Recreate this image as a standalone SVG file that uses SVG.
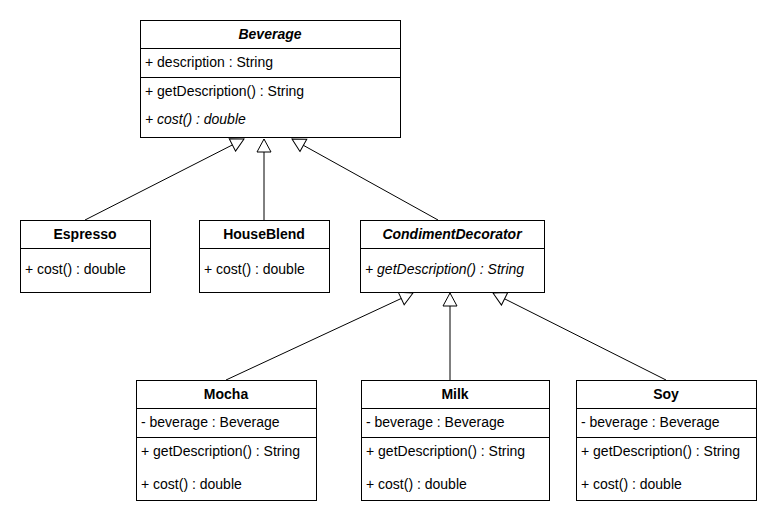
<svg xmlns="http://www.w3.org/2000/svg" width="781" height="521" viewBox="0 0 781 521">
<defs>
<style>
.box{fill:#fff;stroke:#000;stroke-width:1}
.div{stroke:#000;stroke-width:1;fill:none}
.t{font-family:"Liberation Sans",Arial,Helvetica,sans-serif;font-size:14px;fill:#000}
.h{font-weight:bold;text-anchor:middle}
.i{font-style:italic}
.conn line{stroke:#000;stroke-width:1;marker-end:url(#inh)}
</style>
<marker id="inh" viewBox="-1 -1 16 16" markerWidth="16" markerHeight="16" refX="13" refY="7" orient="auto" markerUnits="userSpaceOnUse">
<path d="M0,0 L13,7 L0,14 Z" fill="#fff" stroke="#000" stroke-width="1"/>
</marker>
</defs>
<rect x="0" y="0" width="781" height="521" fill="#fff"/>
<g id="connectors" class="conn">
<line x1="85" y1="220" x2="244" y2="139"/>
<line x1="264" y1="220" x2="264" y2="139"/>
<line x1="438" y1="220" x2="292" y2="139"/>
<line x1="226" y1="380" x2="413" y2="293"/>
<line x1="450" y1="380" x2="450" y2="293"/>
<line x1="666" y1="380" x2="493" y2="293"/>
</g>
<g id="Beverage">
<rect class="box" x="140.5" y="20.5" width="260" height="117"/>
<line class="div" x1="140.5" y1="48.5" x2="400.5" y2="48.5"/>
<line class="div" x1="140.5" y1="77.5" x2="400.5" y2="77.5"/>
<text class="t h i" x="270" y="39">Beverage</text>
<text class="t" x="145" y="67">+ description : String</text>
<text class="t" x="145" y="96">+ getDescription() : String</text>
<text class="t i" x="145" y="124">+ cost() : double</text>
</g>
<g id="Espresso">
<rect class="box" x="20.5" y="220.5" width="130" height="72"/>
<line class="div" x1="20.5" y1="248.5" x2="150.5" y2="248.5"/>
<text class="t h" x="85" y="239">Espresso</text>
<text class="t" x="25" y="274">+ cost() : double</text>
</g>
<g id="HouseBlend">
<rect class="box" x="199.5" y="220.5" width="130" height="72"/>
<line class="div" x1="199.5" y1="248.5" x2="329.5" y2="248.5"/>
<text class="t h" x="264" y="239">HouseBlend</text>
<text class="t" x="204" y="274">+ cost() : double</text>
</g>
<g id="CondimentDecorator">
<rect class="box" x="360.5" y="220.5" width="184" height="72"/>
<line class="div" x1="360.5" y1="248.5" x2="544.5" y2="248.5"/>
<text class="t h i" x="452" y="239">CondimentDecorator</text>
<text class="t i" x="365" y="274">+ getDescription() : String</text>
</g>
<g id="Mocha">
<rect class="box" x="136.5" y="380.5" width="180" height="120"/>
<line class="div" x1="136.5" y1="408.5" x2="316.5" y2="408.5"/>
<line class="div" x1="136.5" y1="437.5" x2="316.5" y2="437.5"/>
<text class="t h" x="226" y="399">Mocha</text>
<text class="t" x="141" y="427">- beverage : Beverage</text>
<text class="t" x="141" y="456">+ getDescription() : String</text>
<text class="t" x="141" y="489">+ cost() : double</text>
</g>
<g id="Milk">
<rect class="box" x="361.5" y="380.5" width="188" height="120"/>
<line class="div" x1="361.5" y1="408.5" x2="549.5" y2="408.5"/>
<line class="div" x1="361.5" y1="437.5" x2="549.5" y2="437.5"/>
<text class="t h" x="455" y="399">Milk</text>
<text class="t" x="366" y="427">- beverage : Beverage</text>
<text class="t" x="366" y="456">+ getDescription() : String</text>
<text class="t" x="366" y="489">+ cost() : double</text>
</g>
<g id="Soy">
<rect class="box" x="576.5" y="380.5" width="180" height="120"/>
<line class="div" x1="576.5" y1="408.5" x2="756.5" y2="408.5"/>
<line class="div" x1="576.5" y1="437.5" x2="756.5" y2="437.5"/>
<text class="t h" x="666" y="399">Soy</text>
<text class="t" x="581" y="427">- beverage : Beverage</text>
<text class="t" x="581" y="456">+ getDescription() : String</text>
<text class="t" x="581" y="489">+ cost() : double</text>
</g>
</svg>
